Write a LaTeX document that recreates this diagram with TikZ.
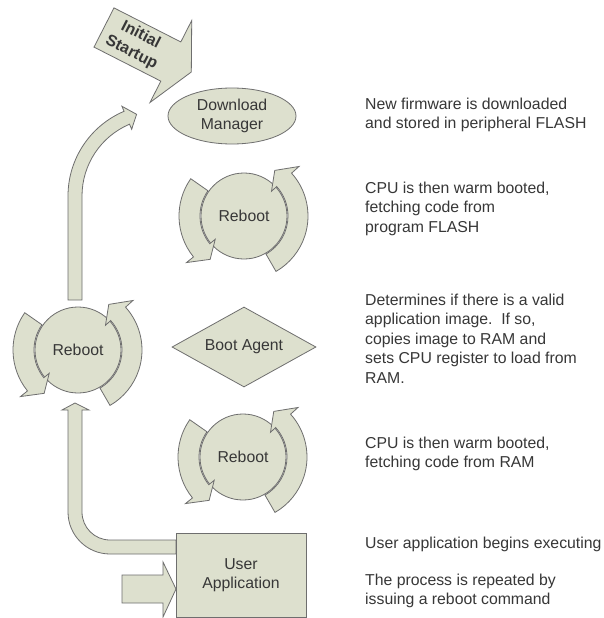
\documentclass[tikz,border=0pt]{standalone}
\usepackage{fontspec}
\setmainfont{Liberation Sans}
\usepackage{xcolor}
\usepackage{tikz}
\usetikzlibrary{shapes,positioning,calc}

\definecolor{panel}{RGB}{221,224,206}
\definecolor{edge}{RGB}{110,110,110}
\definecolor{ink}{RGB}{55,55,55}

% two curved arrows wrapped round a reboot node
\newcommand{\rebootarrows}[1]{%
  \begin{scope}[shift={(#1.center)},yscale=-1]
    \filldraw[glyph] (145:44) arc[start angle=145,end angle=219,radius=44] -- (219:37) -- (232:55) -- (219:74) -- (219:65) arc[start angle=219,end angle=145,radius=65] -- cycle;
    \filldraw[glyph] (-60:44) arc[start angle=-60,end angle=42,radius=44] -- (42:37) -- (56:55) -- (42:74) -- (42:64) arc[start angle=42,end angle=-60,radius=64] -- cycle;
  \end{scope}}

\begin{document}
\begin{tikzpicture}[x=1pt,y=-1pt,
    glyph/.style={fill=panel,draw=edge,line width=0.8pt},
    lbl/.style={text=ink,font=\fontsize{15.8}{19.5}\selectfont},
    plain/.style={glyph,lbl,inner sep=0,align=center},
    note/.style={lbl,anchor=north west,inner sep=0,align=left}
]
\useasboundingbox[fill=white] (0,0) rectangle (604,618);

% start arrow
\begin{scope}[shift={(104,27.5)},rotate=-27]
  \filldraw[glyph] (0,-22) -- (75,-22) -- (75,-46) -- (98,0) -- (75,46) -- (75,22) -- (0,22) -- cycle;
  \node[lbl,transform shape,align=center,inner sep=0,font=\fontsize{16}{20}\selectfont\bfseries] (start) at (36,0) {Initial\\Startup};
\end{scope}

% return arrow up to the start
\begin{scope}[shift={(160,196)}]
  \filldraw[glyph] (-92,104) -- (180:92) arc[start angle=180,end angle=247,radius=92] -- (247:97.5) -- (254:85) -- (247:72.5) -- (247:78) arc[start angle=247,end angle=180,radius=78] -- (-78,104) -- cycle;
\end{scope}

% loop from the application back to reboot
\filldraw[glyph] (176,540) -- (110,540) arc[start angle=90,end angle=180,radius=28] -- (82,410) -- (89,410) -- (75,403) -- (62,410) -- (68,410) -- (68,512) arc[start angle=180,end angle=90,radius=42] -- (176,554) -- cycle;
\filldraw[glyph] (122,575) -- (163,575) -- (163,562) -- (176,589) -- (163,617) -- (163,603) -- (122,603) -- cycle;

\node[plain,ellipse,minimum width=128,minimum height=56] (dlm) at (232,116) {Download\\Manager};
\node[plain,circle,minimum size=86] (rb1) at (244,216) {Reboot};
\node[plain,diamond,aspect=1.8,minimum width=144,minimum height=80] (agent) at (244,347) {Boot Agent};
\node[plain,circle,minimum size=86] (rb2) at (243,457) {Reboot};
\node[plain,circle,minimum size=86] (rbL) at (78,350) {Reboot};
\node[plain,rectangle,minimum width=130,minimum height=84] (appl) at (241,575) {User\\Application};

\rebootarrows{rb1}
\rebootarrows{rb2}
\rebootarrows{rbL}

\node[note] (n1) at (365,97.5) {New firmware is downloaded\\and stored in peripheral FLASH};
\node[note] (n2) at (365,181.5) {CPU is then warm booted,\\fetching code from\\program FLASH};
\node[note] (n3) at (365,293.5) {Determines if there is a valid\\application image.\ \ If so,\\copies image to RAM and\\sets CPU register to load from\\RAM.};
\node[note] (n4) at (365,436.5) {CPU is then warm booted,\\fetching code from RAM};
\node[note] (n5) at (365,536.5) {User application begins executing};
\node[note] (n6) at (365,573.5) {The process is repeated by\\issuing a reboot command};
\end{tikzpicture}
\end{document}
